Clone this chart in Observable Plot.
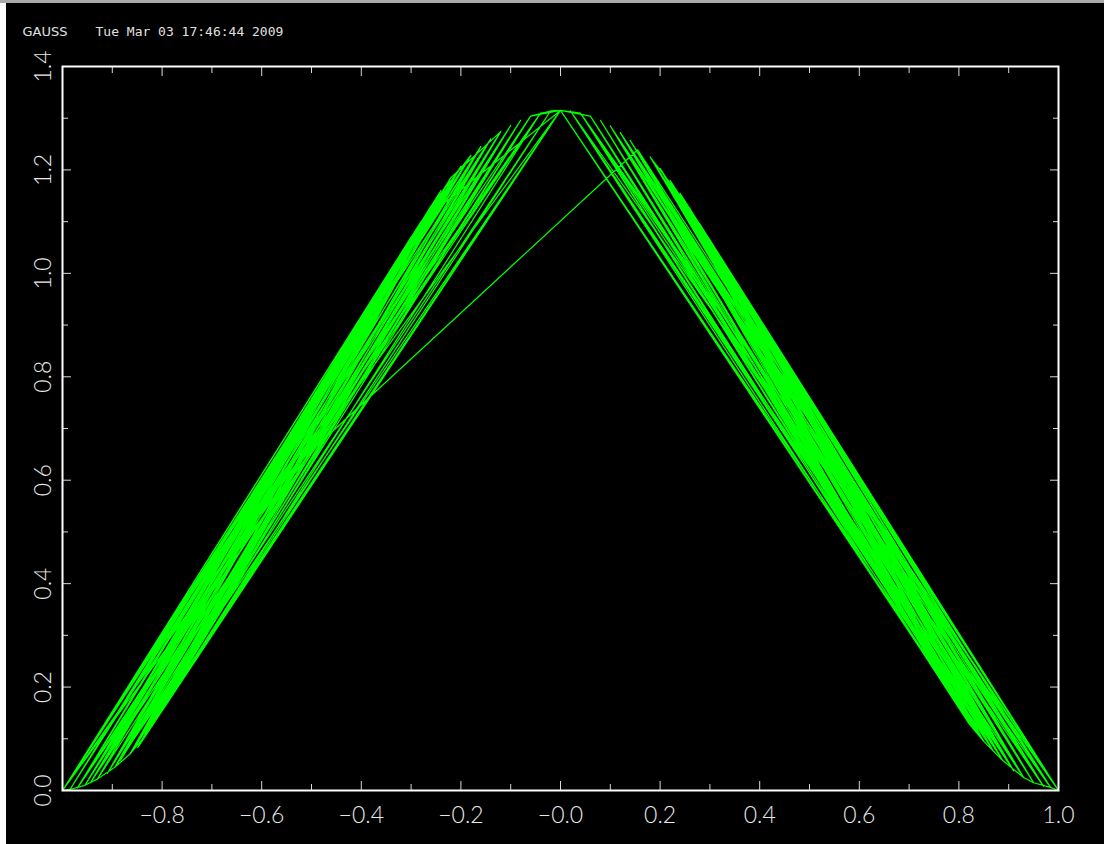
<!DOCTYPE html>
<html><head><meta charset="utf-8">
<script src="https://cdn.jsdelivr.net/npm/d3@7"></script>
<script src="https://cdn.jsdelivr.net/npm/@observablehq/plot@0.6"></script>
<style>
html,body{margin:0;padding:0;background:#000;overflow:hidden;}
#chart{position:absolute;left:0;top:0;}
.stripL{position:absolute;left:0;top:0;width:6px;height:844px;background:#fff;}
.stripT{position:absolute;left:0;top:0;width:1104px;height:3px;background:#aaa;}
</style></head><body>
<div id="chart"></div>
<div class="stripL"></div><div class="stripT"></div>
<script>
// ---- data ----
const titleParts = ["GAUSS", "Tue Mar 03 17:46:44 2009"];

// vertices of the green polyline (points on the curve)
const bottomLeftX  = [-1.000,-0.985,-0.970,-0.955,-0.944,-0.930,-0.910,-0.895,-0.884,-0.865,-0.849,-0.835,-0.817];
const bottomLeftY  = [ 0.000, 0.002, 0.005, 0.010, 0.015, 0.022, 0.033, 0.045, 0.058, 0.070, 0.083, 0.105, 0.135];
const topLeftX     = [-0.300,-0.280,-0.260,-0.240,-0.220,-0.200,-0.180,-0.160,-0.140,-0.120,-0.100,-0.080,-0.060,-0.040,-0.020];
const topLeftY     = [ 1.070, 1.100, 1.130, 1.160, 1.185, 1.207, 1.228, 1.245, 1.260, 1.274, 1.286, 1.296, 1.304, 1.310, 1.314];
const bottomRightX = [ 1.000, 0.984, 0.970, 0.950, 0.930, 0.910, 0.888, 0.870, 0.850, 0.835, 0.819];
const bottomRightY = [ 0.000, 0.006, 0.008, 0.015, 0.025, 0.038, 0.058, 0.075, 0.095, 0.112, 0.131];
const topRightX    = [ 0.300, 0.280, 0.260, 0.240, 0.220, 0.200, 0.180, 0.155, 0.140, 0.120, 0.100, 0.080, 0.060, 0.040, 0.020];
const topRightY    = [ 1.065, 1.095, 1.125, 1.155, 1.180, 1.203, 1.225, 1.239, 1.257, 1.272, 1.285, 1.296, 1.304, 1.310, 1.314];
const apexPoint    = [0.000, 1.315];
const midLeftPoint = [-0.500, 0.657];

// order in which the vertices are joined
const pathLeft1 = ["b0","b1","b3","b5","b7","b9","b11","b12","a","t1","b0","t0","b2","t3","b1","t2","t6","b4","t5","b3","t0","b6","t4","b2","t1","b5","t6","b0","t3","b4","t2","b6","t7","b1","t4","t9","b3","t8","b0","t5","b2","t0","b5","t3","b7","t9","b4","t6","b1","t1","b6","t2","b3","t10","b8","t5","b0","t7","b9","t12","b2","t4","b10","a","b11","t13","b4","t11","b7","t14","b12","t10","b8","t12","t14","a"];
const pathRight1 = ["s13","r10","s11","r8","s9","r1","s0","r2","s3","r0","s1","r3","s2","s6","r4","s5","r2","s0","r5","s4","r1","s7","r6","s3","r0","s6","r3","s2","r5","s8","r4","s1","r6","s5","r2","s10","r7","s4","r0","s9","r3","s6","r5","s12","r8","a","r9","s11","r6","s14","r10","s10","r7","s7","m"];
const pathLeft2 = ["b5","t2","b3","t4","b1","t6","b6","t0","b4","t3","b2","t5","b0","t8","b7","a","b9","t11","b10","t13","a"];
const pathRight2 = ["s12","r9","s10","r5","s2","r3","s4","r1","s1","r4","s3","r2","s6","r0","s5","r6","s8","r3","s0","r5","s7","r1","s9","r4","s13","r8","s11","r10","s14","r7","a"];
const pathLeft3 = ["t12","b8","t3","b10","t7","b12","t9","b9","t5","b11","t8","b10","t11","b6","t10","b2","t13","b0","a"];
const pathRight3 = ["s12","r6","s3","r8","s7","r10","s9","r9","s5","r7","s8","r2","s13","r0","s10","r1","s14","r5","s4","r10","r8","r6","r4","r3","r1","r0"];

// axes
const xMajor = [-0.8,-0.6,-0.4,-0.2,0,0.2,0.4,0.6,0.8];
const xMinor = [-0.9,-0.7,-0.5,-0.3,-0.1,0.1,0.3,0.5,0.7,0.9];
const yMajor = [0.2,0.4,0.6,0.8,1.0,1.2];
const yMinor = [0.1,0.3,0.5,0.7,0.9,1.1,1.3];
const xLabelVals = [-0.8,-0.6,-0.4,-0.2,0,0.2,0.4,0.6,0.8,1.0];
const xLabelText = ["\u22120.8","\u22120.6","\u22120.4","\u22120.2","\u22120.0","0.2","0.4","0.6","0.8","1.0"];
const yLabelVals = [0,0.2,0.4,0.6,0.8,1.0,1.2,1.4];
const yLabelText = ["0.0","0.2","0.4","0.6","0.8","1.0","1.2","1.4"];

// ---- build ----
const pts = {a: apexPoint, m: midLeftPoint};
bottomLeftX.forEach((x,i)=>pts["b"+i]=[x,bottomLeftY[i]]);
topLeftX.forEach((x,i)=>pts["t"+i]=[x,topLeftY[i]]);
bottomRightX.forEach((x,i)=>pts["r"+i]=[x,bottomRightY[i]]);
topRightX.forEach((x,i)=>pts["s"+i]=[x,topRightY[i]]);
const path = [...pathLeft1, ...pathRight1, ...pathLeft2, ...pathRight2, ...pathLeft3, ...pathRight3];
const table = path.map(k => ({x: pts[k][0], y: pts[k][1]}));

const tickColor = "#d8d8d8";
const labelFont = {fontFamily:"Lato, 'DejaVu Sans', sans-serif", fontWeight:300, fontSize:23, fill:"#e8e8e8"};

const chart = Plot.plot({
  width:1104, height:844,
  marginLeft:62, marginRight:46, marginTop:66, marginBottom:54,
  style:{background:"#000", color:"#fff", overflow:"visible"},
  x:{domain:[-1,1], label:null},
  y:{domain:[0,1.4], label:null},
  marks:[
    Plot.line(table,{x:"x", y:"y", stroke:"#00ff00", strokeWidth:1.2}),
    Plot.axisX(xMajor,{anchor:"bottom", tickSize:-9, fill:"none", stroke:tickColor, label:null}),
    Plot.axisX(xMinor,{anchor:"bottom", tickSize:-6, fill:"none", stroke:tickColor, label:null}),
    Plot.axisX(xMajor,{anchor:"top", tickSize:-9, fill:"none", stroke:tickColor, label:null}),
    Plot.axisX(xMinor,{anchor:"top", tickSize:-6, fill:"none", stroke:tickColor, label:null}),
    Plot.axisY(yMajor,{anchor:"left", tickSize:-9, fill:"none", stroke:tickColor, label:null}),
    Plot.axisY(yMinor,{anchor:"left", tickSize:-6, fill:"none", stroke:tickColor, label:null}),
    Plot.axisY(yMajor,{anchor:"right", tickSize:-9, fill:"none", stroke:tickColor, label:null}),
    Plot.axisY(yMinor,{anchor:"right", tickSize:-6, fill:"none", stroke:tickColor, label:null}),
    Plot.frame({stroke:"#fff", strokeWidth:2}),
    Plot.text(xLabelVals,{x:d=>d, text:(d,i)=>xLabelText[i], frameAnchor:"bottom", dy:25, lineAnchor:"middle", textAnchor:"middle", ...labelFont}),
    Plot.text(yLabelVals,{y:d=>d, text:(d,i)=>yLabelText[i], frameAnchor:"left", dx:-19, rotate:-90, lineAnchor:"middle", textAnchor:"middle", ...labelFont}),
    Plot.text([titleParts[0]],{frameAnchor:"top-left", dx:-40, dy:-35, textAnchor:"start", lineAnchor:"middle", fontFamily:"'DejaVu Sans', sans-serif", fontSize:13, fill:"#e0e0e0"}),
    Plot.text([titleParts[1]],{frameAnchor:"top-left", dx:33, dy:-35, textAnchor:"start", lineAnchor:"middle", fontFamily:"'DejaVu Sans Mono', monospace", fontSize:13, fill:"#e0e0e0"})
  ]
});
document.getElementById("chart").appendChild(chart);
</script></body></html>
